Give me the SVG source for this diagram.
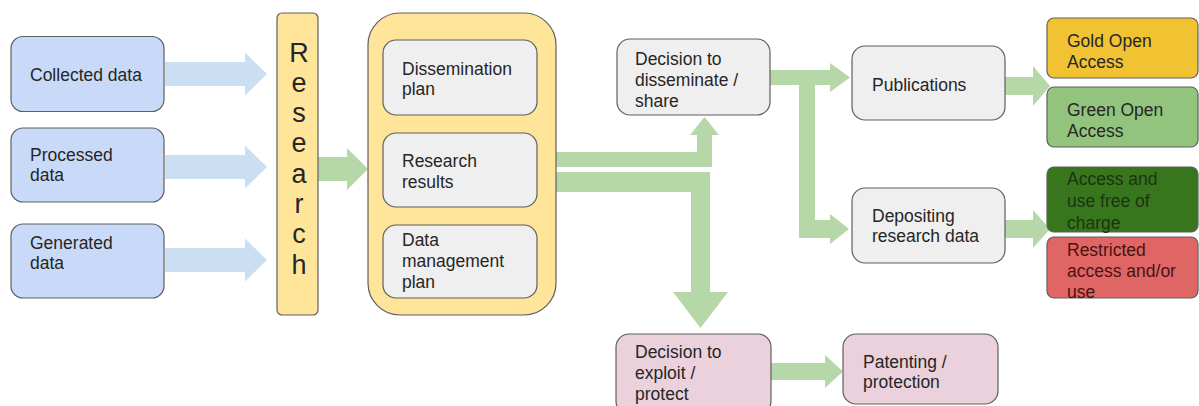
<svg xmlns="http://www.w3.org/2000/svg" width="1199" height="406" viewBox="0 0 1199 406">
<style>
text{font-family:"Liberation Sans",Arial,sans-serif;font-size:17.5px;fill:#262626}
.box{stroke:#5f5f5f;stroke-width:1.2}
.blue{fill:#c9daf8}
.grey{fill:#efefef}
.yellow{fill:#ffe59a}
.pink{fill:#ead1dc}
.gold{fill:#f1c232}
.lgreen{fill:#93c47d}
.dgreen{fill:#38761d}
.red{fill:#e06666}
.ba{fill:#cadff1}
.ga{fill:#b6d7a8}
.big{font-size:27px}
</style>
<rect width="1199" height="406" fill="#ffffff"/>
<g id="connectors">
<polygon class="ba" points="165,62 245,62 245,52.5 267,74 245,95.5 245,86 165,86"/>
<polygon class="ba" points="165,155 245,155 245,145.5 267,167 245,188.5 245,179 165,179"/>
<polygon class="ba" points="165,248 245,248 245,238.5 267,260 245,281.5 245,272 165,272"/>
<polygon class="ga" points="318,157 347,157 347,148 368,169 347,190 347,181 318,181"/>
<polygon class="ga" points="556,152 697,152 697,135 690,135 704.5,117 719,135 712,135 712,167 556,167"/>
<polygon class="ga" points="556,172 710,172 710,292 728,292 700.5,328 673,292 691,292 691,192 556,192"/>
<polygon class="ga" points="770,70 830,70 830,63 850,77.5 830,92 830,85 815,85 815,220 830,220 830,214 849,229 830,244 830,238 799,238 799,85 770,85"/>
<polygon class="ga" points="1005,77 1033,77 1033,66 1050,86 1033,106 1033,95 1005,95"/>
<polygon class="ga" points="1005,220 1033,220 1033,210 1050,229 1033,248 1033,238 1005,238"/>
<polygon class="ga" points="771,363 825,363 825,355 843,371.5 825,388 825,380 771,380"/>
</g>
<g id="collected">
<rect class="box blue" x="11" y="36.5" width="153" height="75" rx="12"/>
<text x="30" y="81">Collected data</text>
</g>
<g id="processed">
<rect class="box blue" x="11" y="128" width="153" height="74" rx="12"/>
<text x="30" y="161">Processed</text>
<text x="30" y="181">data</text>
</g>
<g id="generated">
<rect class="box blue" x="11" y="224" width="153" height="74" rx="12"/>
<text x="30" y="249">Generated</text>
<text x="30" y="269">data</text>
</g>
<g id="research">
<rect class="box yellow" x="277" y="13" width="41" height="302" rx="5"/>
<text class="big" text-anchor="middle" x="299" y="62">R</text>
<text class="big" text-anchor="middle" x="299" y="92">e</text>
<text class="big" text-anchor="middle" x="299" y="122">s</text>
<text class="big" text-anchor="middle" x="299" y="152">e</text>
<text class="big" text-anchor="middle" x="299" y="183">a</text>
<text class="big" text-anchor="middle" x="299" y="213">r</text>
<text class="big" text-anchor="middle" x="299" y="243">c</text>
<text class="big" text-anchor="middle" x="299" y="274">h</text>
</g>
<g id="results-container">
<rect class="box yellow" x="368" y="13" width="188" height="302" rx="32"/>
</g>
<g id="dissemination-plan">
<rect class="box grey" x="383" y="40" width="154" height="75" rx="13"/>
<text x="402" y="75">Dissemination</text>
<text x="402" y="95">plan</text>
</g>
<g id="research-results">
<rect class="box grey" x="383" y="133" width="154" height="74" rx="13"/>
<text x="402" y="167">Research</text>
<text x="402" y="188">results</text>
</g>
<g id="data-management-plan">
<rect class="box grey" x="383" y="225" width="154" height="73" rx="13"/>
<text x="402" y="246">Data</text>
<text x="402" y="267">management</text>
<text x="402" y="288">plan</text>
</g>
<g id="decision-disseminate">
<rect class="box grey" x="617" y="39" width="153" height="76" rx="13"/>
<text x="635" y="65">Decision to</text>
<text x="635" y="86">disseminate /</text>
<text x="635" y="107">share</text>
</g>
<g id="publications">
<rect class="box grey" x="852" y="46" width="153" height="74" rx="13"/>
<text x="872" y="91">Publications</text>
</g>
<g id="depositing">
<rect class="box grey" x="852" y="188" width="153" height="75" rx="13"/>
<text x="872" y="222">Depositing</text>
<text x="872" y="242">research data</text>
</g>
<g id="gold-oa">
<rect class="box gold" x="1047" y="18" width="151" height="60" rx="7"/>
<text x="1067" y="47">Gold Open</text>
<text x="1067" y="68">Access</text>
</g>
<g id="green-oa">
<rect class="box lgreen" x="1047" y="87" width="151" height="60" rx="7"/>
<text x="1067" y="116">Green Open</text>
<text x="1067" y="137">Access</text>
</g>
<g id="free-access">
<rect class="box dgreen" x="1047" y="167" width="151" height="65" rx="7"/>
<text x="1067" y="185" style="fill:#1c3311">Access and</text>
<text x="1067" y="207" style="fill:#1c3311">use free of</text>
<text x="1067" y="229" style="fill:#1c3311">charge</text>
</g>
<g id="restricted">
<rect class="box red" x="1047" y="237" width="151" height="61" rx="7"/>
<text x="1067" y="256" style="fill:#4a1212">Restricted</text>
<text x="1067" y="277" style="fill:#4a1212">access and/or</text>
<text x="1067" y="298" style="fill:#4a1212">use</text>
</g>
<g id="decision-exploit">
<rect class="box pink" x="616" y="334" width="155" height="80" rx="13"/>
<text x="635" y="358">Decision to</text>
<text x="635" y="379">exploit /</text>
<text x="635" y="400">protect</text>
</g>
<g id="patenting">
<rect class="box pink" x="843" y="334" width="155" height="70" rx="13"/>
<text x="863" y="368">Patenting /</text>
<text x="863" y="388">protection</text>
</g>
</svg>
